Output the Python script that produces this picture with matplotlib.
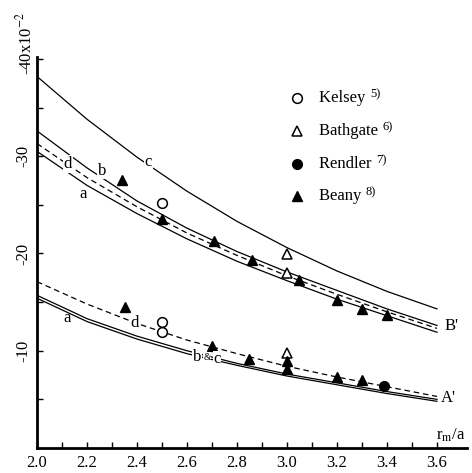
import numpy as np
import matplotlib
matplotlib.use("Agg")
from matplotlib import pyplot as plt

plt.rcParams['font.family'] = ['Liberation Serif', 'DejaVu Serif']
plt.rcParams['mathtext.fontset'] = 'stix'

# --- data ---
x_curve = [2.0, 2.2, 2.4, 2.6, 2.8, 3.0, 3.2, 3.4, 3.6]

# upper group (B')
up_c = [-38.2, -33.8, -29.9, -26.4, -23.3, -20.6, -18.2, -16.1, -14.3]
up_b = [-32.6, -28.8, -25.4, -22.6, -20.2, -18.1, -16.2, -14.3, -12.6]
up_d = [-31.3, -27.8, -24.8, -22.1, -19.8, -17.7, -15.8, -14.0, -12.3]
up_a = [-30.5, -27.0, -24.1, -21.5, -19.2, -17.2, -15.3, -13.6, -11.9]

# lower group (A')
lo_bc = [-15.7, -13.3, -11.5, -10.0, -8.7, -7.6, -6.7, -5.8, -5.0]
lo_a = [-15.4, -13.0, -11.2, -9.7, -8.5, -7.4, -6.5, -5.6, -4.8]
lo_d = [-17.1, -14.8, -12.8, -11.1, -9.7, -8.4, -7.3, -6.3, -5.3]

kelsey_x = [2.5, 2.5, 2.5]
kelsey_y = [-25.2, -13.0, -11.9]
bathgate_x = [3.0, 3.0, 3.0]
bathgate_y = [-19.9, -18.0, -9.8]
rendler_x = [3.39]
rendler_y = [-6.35]
beany_x = [2.34, 2.5, 2.71, 2.86, 3.05, 3.2, 3.3, 3.4,
           2.35, 2.7, 2.85, 3.0, 3.0, 3.2, 3.3]
beany_y = [-27.6, -23.5, -21.3, -19.3, -17.3, -15.2, -14.3, -13.7,
           -14.5, -10.5, -9.1, -8.9, -8.1, -7.3, -7.0]

fig = plt.figure(figsize=(4.72, 4.73), dpi=100)
ax = fig.add_axes([37/472, 25/473, 430/472, 391/473])

lw = 0.9
dash = (0, (4.5, 3))
ax.plot(x_curve, up_c, 'k-', lw=lw)
ax.plot(x_curve, up_b, 'k-', lw=lw)
ax.plot(x_curve, up_d, 'k', lw=lw, linestyle=dash)
ax.plot(x_curve, up_a, 'k-', lw=lw)
ax.plot(x_curve, lo_bc, 'k-', lw=lw)
ax.plot(x_curve, lo_a, 'k-', lw=lw)
ax.plot(x_curve, lo_d, 'k', lw=lw, linestyle=dash)

ms = 7
ax.plot(kelsey_x, kelsey_y, 'o', mfc='white', mec='k', mew=1.1, ms=ms, ls='none')
ax.plot(bathgate_x, bathgate_y, '^', mfc='white', mec='k', mew=1.1, ms=ms, ls='none')
ax.plot(rendler_x, rendler_y, 'o', color='k', ms=ms, ls='none')
ax.plot(beany_x, beany_y, '^', color='k', ms=ms, ls='none')

# curve labels
fs = 12
wb = dict(facecolor='white', edgecolor='none', pad=0.5)
ax.text(2.445, -29.4, 'c', fontsize=fs, ha='center', va='center', bbox=wb)
ax.text(2.26, -28.5, 'b', fontsize=fs, ha='center', va='center', bbox=wb)
ax.text(2.124, -29.2, 'd', fontsize=fs, ha='center', va='center', bbox=wb)
ax.text(2.184, -26.1, 'a', fontsize=fs, ha='center', va='center')
ax.text(2.12, -13.4, 'a', fontsize=fs, ha='center', va='center')
ax.text(2.39, -12.9, 'd', fontsize=fs, ha='center', va='center', bbox=wb)
ax.text(2.64, -9.4, 'b', fontsize=fs, ha='center', va='center', bbox=wb)
ax.text(2.68, -9.3, '&', fontsize=7, ha='center', va='center', bbox=wb)
ax.text(2.72, -9.1, 'c', fontsize=fs, ha='center', va='center', bbox=wb)
ax.text(3.66, -12.5, "B'", fontsize=fs, ha='center', va='center')
ax.text(3.645, -5.15, "A'", fontsize=fs, ha='center', va='center')
ax.text(3.655, -1.3, r'r$_{\rm m}$/a', fontsize=fs, ha='center', va='center')

# legend drawn by hand
leg_names = ['Kelsey', 'Bathgate', 'Rendler', 'Beany']
leg_refs = ['5)', '6)', '7)', '8)']
leg_y = [-36.0, -32.6, -29.2, -25.9]
leg_style = [dict(marker='o', mfc='white', mec='k', mew=1.1),
             dict(marker='^', mfc='white', mec='k', mew=1.1),
             dict(marker='o', mfc='k', mec='k'),
             dict(marker='^', mfc='k', mec='k')]
for name, ref, yy, st in zip(leg_names, leg_refs, leg_y, leg_style):
    ax.plot([3.04], [yy], ls='none', ms=ms, **st)
    t = ax.text(3.13, yy, name + ' ', fontsize=fs, ha='left', va='center')
    ax.annotate(ref, xy=(1, 0.75), xycoords=t, fontsize=9, ha='left', va='center')

ax.set_xlim(2.0, 3.72)
ax.set_ylim(0, -40.2)

ax.set_xticks(np.arange(2.0, 3.61, 0.2))
ax.set_xticklabels(['2.0', '2.2', '2.4', '2.6', '2.8', '3.0', '3.2', '3.4', '3.6'])
ax.set_xticks(np.arange(2.1, 3.55, 0.2), minor=True)
ax.set_yticks([-10, -20, -30, -40])
ax.set_yticklabels(['-10', '-20', '-30', ''], rotation=90, va='center')
ax.set_yticks([-5, -15, -25, -35], minor=True)
ax.tick_params(which='both', direction='in', length=4, width=1, labelsize=fs)
ax.tick_params(axis='x', pad=5)
ax.tick_params(axis='y', pad=4)

ax.text(-0.026, -38.3, r'-40x10$^{-2}$', fontsize=fs, rotation=90,
        ha='center', va='bottom', transform=ax.get_yaxis_transform())

for s in ['top', 'right']:
    ax.spines[s].set_visible(False)
for s in ['left', 'bottom']:
    ax.spines[s].set_linewidth(2)

fig.savefig('out.png', dpi=100)
